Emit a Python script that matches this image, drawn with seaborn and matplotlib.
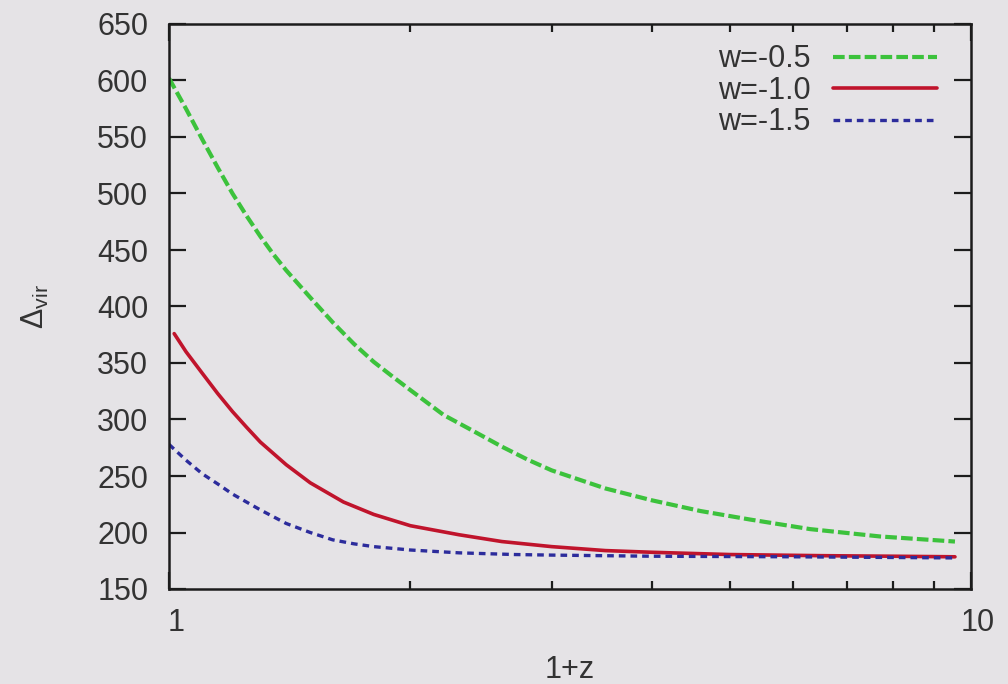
import matplotlib
matplotlib.use("Agg")
import matplotlib.pyplot as plt
import matplotlib.transforms as mtransforms
import pandas as pd
import seaborn as sns

# Virial overdensity Delta_vir against 1+z for three equations of state w
x_w05 = [1.0, 1.05, 1.1, 1.15, 1.2, 1.25, 1.3, 1.35, 1.4, 1.5, 1.6, 1.7, 1.8,
         1.9, 2.0, 2.2, 2.4, 2.6, 2.8, 3.0, 3.5, 4.0, 4.6, 5.3, 6.3, 7.7, 9.55]
d_w05 = [602, 575, 548, 523, 500, 480, 462, 446, 432, 408, 386, 367, 351,
         338, 326, 304, 289.5, 276, 264.5, 255, 239, 228.5, 219, 211.5, 203, 196.5, 192]

x_w10 = [1.015, 1.05, 1.1, 1.15, 1.2, 1.25, 1.3, 1.4, 1.5, 1.65, 1.8, 2.0,
         2.3, 2.6, 3.0, 3.5, 4.0, 5.0, 6.5, 8.0, 9.55]
d_w10 = [376, 360, 341, 323, 307, 293, 280, 260, 244, 227, 216, 206,
         198, 192, 187.5, 184, 182.5, 180.5, 179.5, 179, 178.5]

x_w15 = [1.0, 1.05, 1.1, 1.15, 1.2, 1.3, 1.4, 1.5, 1.6, 1.7, 1.8, 2.0,
         2.3, 2.7, 3.0, 4.0, 6.0, 9.55]
d_w15 = [278, 264, 252, 243, 234, 220, 208, 200, 193.5, 190, 187.5, 184.5,
         182, 180.5, 180, 179, 178.5, 177.5]

series_labels = ["w=-0.5", "w=-1.0", "w=-1.5"]
y_ticks = [150, 200, 250, 300, 350, 400, 450, 500, 550, 600, 650]
x_major = [1, 10]
x_major_labels = ["1", "10"]
x_minor = [2, 3, 4, 5, 6, 7, 8, 9]

BG = "#e5e3e6"
INK = "#1c1c1c"
TXT = "#333333"

sns.set_style("ticks")
plt.rcParams["font.family"] = ["Liberation Sans", "DejaVu Sans"]
plt.rcParams["mathtext.fontset"] = "custom"
plt.rcParams["mathtext.rm"] = "Liberation Sans"
plt.rcParams["mathtext.it"] = "Liberation Sans:italic"
plt.rcParams["font.size"] = 22

fig = plt.figure(figsize=(10.08, 6.84), dpi=100, facecolor=BG)
ax = fig.add_axes([169 / 1008, 1 - 589 / 684, (971 - 169) / 1008, (589 - 24) / 684])
ax.set_facecolor(BG)

styles = [
    dict(color="#3cc23c", lw=3.0, linestyle=(0, (2.8, 1.0))),
    dict(color="#c0142c", lw=2.6, linestyle="-"),
    dict(color="#2c2c9c", lw=2.4, linestyle=(0, (2.0, 1.5))),
]
xs = [x_w05, x_w10, x_w15]
ds = [d_w05, d_w10, d_w15]
for xv, dv, lab, st in zip(xs, ds, series_labels, styles):
    df = pd.DataFrame({"1+z": xv, "delta": dv})
    sns.lineplot(data=df, x="1+z", y="delta", ax=ax, label=lab,
                 estimator=None, errorbar=None, sort=False, **st)

ax.set_xscale("log")
ax.set_xlim(1, 10)
ax.set_ylim(150, 650)
ax.set_xticks(x_major)
ax.set_xticklabels(x_major_labels)
ax.set_xticks(x_minor, minor=True)
ax.set_xticklabels([], minor=True)
ax.set_yticks(y_ticks)
ax.set_yticklabels([str(v) for v in y_ticks])

for sp in ax.spines.values():
    sp.set_linewidth(1.8)
    sp.set_color(INK)
    sp.set_visible(True)

ax.tick_params(which="both", direction="in", top=True, right=True,
               color=INK, labelcolor=TXT, labelsize=22)
ax.tick_params(axis="y", which="major", length=12, width=1.6, pad=15)
ax.tick_params(axis="x", which="major", length=12, width=1.6, pad=14)
ax.tick_params(axis="x", which="minor", length=6, width=1.6)
ax.tick_params(axis="y", which="minor", left=False, right=False)

# nudge the x tick labels slightly right
shift = mtransforms.ScaledTranslation(7 / 100, 0, fig.dpi_scale_trans)
for lbl in ax.get_xticklabels():
    lbl.set_transform(lbl.get_transform() + shift)

ax.set_xlabel("1+z", fontsize=22, color=TXT)
ax.xaxis.set_label_coords(0.5, -0.116)
ax.set_ylabel(r"$\Delta_{\mathrm{vir}}$", fontsize=22, color=TXT)
ax.yaxis.set_label_coords(-0.147, 0.5)

leg = ax.legend(loc="upper right", bbox_to_anchor=(0.9576, 0.964),
                frameon=False, markerfirst=False, handlelength=3.4,
                handletextpad=0.75, labelspacing=0.05, borderpad=0,
                borderaxespad=0, fontsize=22)
for t in leg.get_texts():
    t.set_color(TXT)

fig.savefig("out.png", dpi=100, facecolor=BG)
